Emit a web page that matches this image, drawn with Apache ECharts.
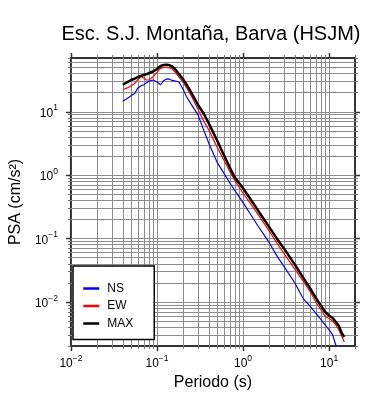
<!DOCTYPE html>
<html>
<head>
<meta charset="utf-8">
<script src="https://cdn.jsdelivr.net/npm/echarts@6/dist/echarts.min.js"></script>
<style>
html, body { margin: 0; padding: 0; background: #fff; }
#chart { width: 390px; height: 400px; }
</style>
</head>
<body>
<div id="chart"></div>
<script>
// periodos (s) y espectros de respuesta (PSA, cm/s2)
var periods = [0.04, 0.045, 0.05, 0.055, 0.06, 0.065, 0.07, 0.075, 0.08, 0.09,
    0.1, 0.11, 0.12, 0.13, 0.14, 0.15, 0.16, 0.18, 0.2, 0.22,
    0.25, 0.3, 0.35, 0.4, 0.5, 0.6, 0.7, 0.8, 1.0, 1.2,
    1.5, 2, 2.5, 3, 4, 5, 6, 7, 8, 9,
    10, 11, 12, 13, 14, 15];
var psaNS = [14.6, 16.1, 17.7, 19.3, 23.6, 25.4, 26.5, 28.3, 29.9, 31.5,
    29.3, 26.5, 31.0, 32.7, 32.4, 31.0, 30.4, 29.3, 22.7, 17.3,
    13.0, 8.85, 5.05, 3.16, 1.58, 1.06, 0.752, 0.573, 0.365, 0.249,
    0.155, 0.0869, 0.0514, 0.0358, 0.0197, 0.0112, 0.00855, 0.00662, 0.00524, 0.00429,
    0.00358, 0.00299, 0.00204, 0.00161, null, null];
var psaEW = [22.1, 23.6, 25.4, 27.7, 32.1, 35.8, 33.9, 31.5, 31.5, 35.2,
    41.4, 47.9, 49.6, 49.6, 48.7, 47.0, 42.9, 35.2, 29.3, 24.0,
    17.7, 10.8, 7.0, 5.14, 2.73, 1.70, 1.14, 0.824, 0.514, 0.365,
    0.236, 0.132, 0.0824, 0.0573, 0.0327, 0.0211, 0.0145, 0.0100, 0.00752, 0.00583,
    0.00543, 0.00495, 0.00429, 0.00358, 0.00288, 0.00232];
var psaMAX = [26.5, 29.0, 31.5, 32.9, 35.2, 36.5, 37.8, 38.7, 40.2, 42.9,
    47.0, 52.4, 54.3, 54.8, 53.7, 51.4, 47.9, 39.2, 32.7, 26.8,
    20.0, 12.7, 9.25, 6.51, 3.49, 2.05, 1.32, 0.918, 0.617, 0.429,
    0.273, 0.153, 0.097, 0.0687, 0.0385, 0.024, 0.0164, 0.0116, 0.00869, 0.00687,
    0.00605, 0.00553, 0.00479, 0.00414, 0.00321, 0.00277];

var seriesNames = ['NS', 'EW', 'MAX'];
var xDecades = [0.01, 0.1, 1, 10];
var yDecades = [0.001, 0.01, 0.1, 1, 10];
var xMin = 0.01, xMax = 20, yMin = 0.002, yMax = 70;

var FONT = '"Liberation Sans", Arial, Helvetica, sans-serif';

function pairs(vals) {
    var out = [];
    for (var i = 0; i < periods.length; i++) {
        if (vals[i] != null) out.push([periods[i], vals[i]]);
    }
    return out;
}

function isDecade(v) {
    var e = Math.round(Math.log10(v));
    return Math.abs(v / Math.pow(10, e) - 1) < 1e-6;
}

function powLabel(v) {
    if (!isDecade(v)) return '';
    var e = Math.round(Math.log10(v));
    return '{b|10}{s|' + (e < 0 ? '\u2212' + (-e) : e) + '}';
}

// lineas de rejilla 1..9 por decada
function gridValues(decades, lo, hi) {
    var out = [];
    decades.forEach(function (d) {
        for (var m = 1; m <= 9; m++) {
            var v = +(m * d).toPrecision(6);
            if (v >= lo - 1e-12 && v <= hi + 1e-9) out.push(v);
        }
    });
    return out;
}
var xGrid = gridValues(xDecades, xMin, xMax);
var yGrid = gridValues(yDecades, yMin, yMax);

var GRID_COLOR = '#8c8c8c';
var FRAME_COLOR = '#333';

function renderXGrid(params, api) {
    var v = api.value(0);
    var cs = params.coordSys;
    var px = Math.round(api.coord([v, 1])[0]) + 0.5;
    var top = cs.y, bottom = cs.y + cs.height;
    var major = isDecade(v);
    var len = major ? 5 : 3;
    var tickStyle = { stroke: major ? FRAME_COLOR : '#777', lineWidth: major ? 1.5 : 1 };
    var kids = [
        { type: 'line', shape: { x1: px, y1: bottom, x2: px, y2: bottom + len }, style: tickStyle },
        { type: 'line', shape: { x1: px, y1: top, x2: px, y2: top - len }, style: tickStyle }
    ];
    if (Math.abs(v - xMin) > 1e-9 && Math.abs(v - xMax) > 1e-9) {
        kids.push({ type: 'line', shape: { x1: px, y1: top, x2: px, y2: bottom }, style: { stroke: GRID_COLOR, lineWidth: 1 } });
    }
    return { type: 'group', children: kids };
}

function renderYGrid(params, api) {
    var v = api.value(1);
    var cs = params.coordSys;
    var py = Math.round(api.coord([1, v])[1]) + 0.5;
    var left = cs.x, right = cs.x + cs.width;
    var major = isDecade(v);
    var len = major ? 5 : 3;
    var tickStyle = { stroke: major ? FRAME_COLOR : '#777', lineWidth: major ? 1.5 : 1 };
    var kids = [
        { type: 'line', shape: { x1: left, y1: py, x2: left - len, y2: py }, style: tickStyle },
        { type: 'line', shape: { x1: right, y1: py, x2: right + len, y2: py }, style: tickStyle }
    ];
    if (Math.abs(v - yMin) > 1e-12 && Math.abs(v - yMax) > 1e-9) {
        kids.push({ type: 'line', shape: { x1: left, y1: py, x2: right, y2: py }, style: { stroke: GRID_COLOR, lineWidth: 1 } });
    }
    return { type: 'group', children: kids };
}

var labelRich = {
    b: { fontSize: 12, lineHeight: 16, verticalAlign: 'bottom', color: '#000', fontFamily: FONT },
    s: { fontSize: 8.5, lineHeight: 9, verticalAlign: 'top', color: '#000', fontFamily: FONT }
};

var chart = echarts.init(document.getElementById('chart'));
var option = {
    animation: false,
    textStyle: { fontFamily: FONT },
    graphic: [{
        type: 'text', x: 211, y: 24, silent: true,
        style: {
            text: 'Esc. S.J. Montaña, Barva (HSJM)',
            fontSize: 20, fontFamily: FONT, fill: '#000',
            align: 'center', verticalAlign: 'top'
        }
    }],
    legend: {
        data: seriesNames,
        orient: 'vertical',
        left: 73, top: 266,
        itemWidth: 16, itemHeight: 14, itemGap: 5.5,
        padding: [16.5, 21, 10, 9],
        backgroundColor: '#fff',
        borderColor: '#000', borderWidth: 1.5,
        lineStyle: { width: 2.5 },
        itemStyle: { opacity: 0 },
        textStyle: { fontSize: 12, color: '#000', padding: [0, 0, 0, 3], fontFamily: FONT }
    },
    grid: {
        left: 67, top: 58, width: 288, height: 288,
        show: true, borderColor: FRAME_COLOR, borderWidth: 2, backgroundColor: 'transparent'
    },
    xAxis: {
        type: 'log', logBase: 10, min: xMin, max: xMax,
        name: 'Periodo (s)', nameLocation: 'middle', nameGap: 28,
        nameTextStyle: { fontSize: 16, color: '#000', fontFamily: FONT },
        axisLine: { show: false }, axisTick: { show: false }, splitLine: { show: false },
        axisLabel: { formatter: powLabel, margin: 8, rich: labelRich }
    },
    yAxis: {
        type: 'log', logBase: 10, min: yMin, max: yMax,
        name: 'PSA (cm/s²)', nameLocation: 'middle', nameGap: 42,
        nameTextStyle: { fontSize: 16, color: '#000', fontFamily: FONT },
        axisLine: { show: false }, axisTick: { show: false }, splitLine: { show: false },
        axisLabel: { formatter: powLabel, margin: 13, rich: labelRich }
    },
    series: [
        {
            type: 'custom', name: 'xgrid', silent: true, clip: false, z: 1,
            renderItem: renderXGrid,
            data: xGrid.map(function (v) { return [v, 1]; }),
            encode: { x: 0, y: 1 }
        },
        {
            type: 'custom', name: 'ygrid', silent: true, clip: false, z: 1,
            renderItem: renderYGrid,
            data: yGrid.map(function (v) { return [1, v]; }),
            encode: { x: 0, y: 1 }
        },
        {
            name: 'NS', type: 'line', data: pairs(psaNS), symbol: 'none', z: 3,
            lineStyle: { color: '#0000ff', width: 1.2 }, itemStyle: { color: '#0000ff' }
        },
        {
            name: 'EW', type: 'line', data: pairs(psaEW), symbol: 'none', z: 4,
            lineStyle: { color: '#ff0000', width: 1.2 }, itemStyle: { color: '#ff0000' }
        },
        {
            name: 'MAX', type: 'line', data: pairs(psaMAX), symbol: 'none', z: 5,
            lineStyle: { color: '#000', width: 2.5 }, itemStyle: { color: '#000' }
        }
    ]
};
chart.setOption(option);
</script>
</body>
</html>
